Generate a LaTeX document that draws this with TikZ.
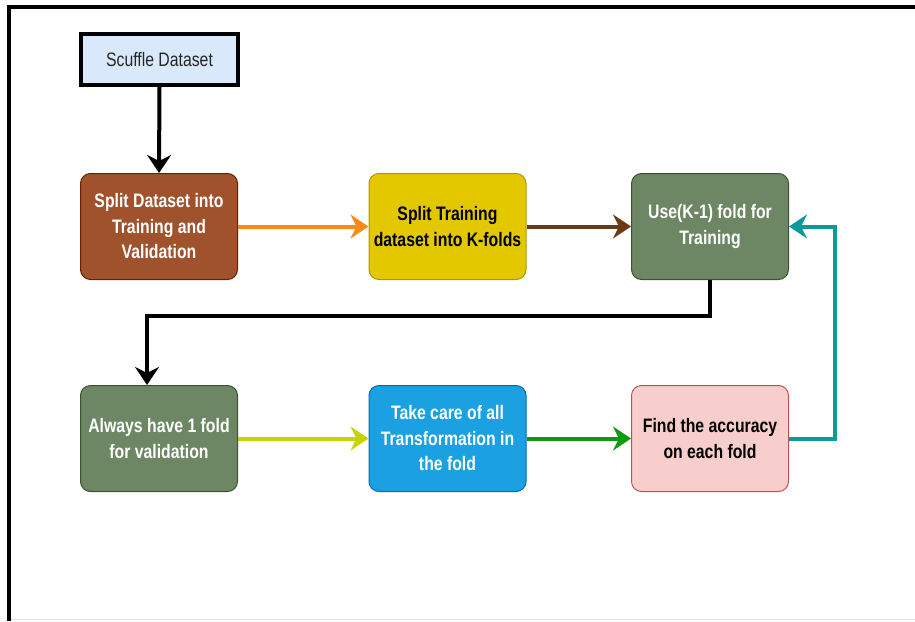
\documentclass[tikz,border=0pt]{standalone}
\usepackage{fontspec}
\setmainfont{Liberation Sans}[FakeStretch=0.81]
\usetikzlibrary{arrows.meta}
\definecolor{cbrown}{HTML}{A0522D}
\definecolor{cbrownd}{HTML}{6D1F00}
\definecolor{cyel}{HTML}{E3C800}
\definecolor{cyeld}{HTML}{B09500}
\definecolor{cgreen}{HTML}{6D8764}
\definecolor{cgreend}{HTML}{3A5431}
\definecolor{cblue}{HTML}{1BA1E2}
\definecolor{cblued}{HTML}{006EAF}
\definecolor{cpink}{HTML}{F8CECC}
\definecolor{cpinkd}{HTML}{B85450}
\definecolor{cscuf}{HTML}{DAE8FC}
\definecolor{aorange}{HTML}{FF8A1A}
\definecolor{abrown}{HTML}{6B3A12}
\definecolor{aygreen}{HTML}{C8D400}
\definecolor{agreen}{HTML}{0E9A0E}
\definecolor{ateal}{HTML}{0E9A9A}
\tikzset{
  flowbox/.style={rectangle, rounded corners=10pt, minimum width=157pt, minimum height=106pt,
    line width=1pt, align=center, font=\fontsize{19.5}{25.5}\selectfont\bfseries, inner sep=2pt},
  conn/.style={line width=4pt, -{Stealth[length=18pt,width=24pt,inset=6pt]}},
}
\begin{document}
\begin{tikzpicture}[x=1pt,y=-1pt]
\useasboundingbox (0,0) rectangle (915,621);
% frame
\draw[black!12, line width=1.5pt] (9,619.5) -- (915,619.5);
\draw[line width=4pt] (9,621) -- (9,6.5) -- (915,6.5);
% nodes
\node[rectangle, draw=black, line width=4pt, fill=cscuf, minimum width=157pt, minimum height=51pt,
  font=\fontsize{19.5}{22}\selectfont, text=black!85] (scuf) at (159.5,59.5) {Scuffle Dataset};
\node[flowbox, fill=cbrown, draw=cbrownd, text=white] (split) at (159,226.5) {Split Dataset into\\Training and\\Validation};
\node[flowbox, fill=cyel, draw=cyeld, text=black] (kfold) at (447.5,226.5) {Split Training\\dataset into K-folds};
\node[flowbox, fill=cgreen, draw=cgreend, text=white] (use) at (710,226.5) {Use(K-1) fold for\\Training};
\node[flowbox, fill=cgreen, draw=cgreend, text=white] (always) at (159,438.5) {Always have 1 fold\\for validation};
\node[flowbox, fill=cblue, draw=cblued, text=white] (take) at (447.5,438.5) {Take care of all\\Transformation in\\the fold};
\node[flowbox, fill=cpink, draw=cpinkd, text=black] (acc) at (710,438.5) {Find the accuracy\\on each fold};
% connectors
\coordinate (b1) at (147,316);
\coordinate (t1) at (835,438.5);
\draw[conn, black] (scuf.south) -- (split.north);
\draw[conn, aorange] (split.east) -- (kfold.west);
\draw[conn, abrown] (kfold.east) -- (use.west);
\draw[conn, black] (use.south) |- (b1) -- (b1 |- always.north);
\draw[conn, aygreen] (always.east) -- (take.west);
\draw[conn, agreen] (take.east) -- (acc.west);
\draw[conn, ateal] (acc.east) -- (t1) |- (use.east);
\end{tikzpicture}
\end{document}
